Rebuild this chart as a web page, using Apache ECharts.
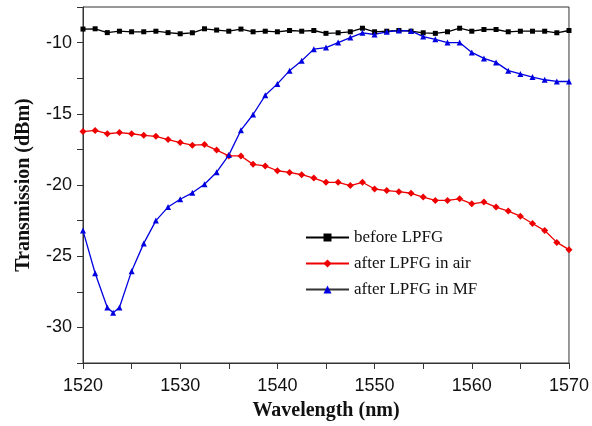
<!DOCTYPE html>
<html><head><meta charset="utf-8">
<script src="https://cdn.jsdelivr.net/npm/echarts@6/dist/echarts.min.js"></script>
<style>html,body{margin:0;padding:0;background:#fff}#c{width:592px;height:426px}</style>
</head><body><div id="c"></div>
<script>
const seriesNames = ['before LPFG', 'after LPFG in air', 'after LPFG in MF'];
const wlBefore = [1520,1521.25,1522.5,1523.75,1525,1526.25,1527.5,1528.75,1530,1531.25,1532.5,1533.75,1535,1536.25,1537.5,1538.75,1540,1541.25,1542.5,1543.75,1545,1546.25,1547.5,1548.75,1550,1551.25,1552.5,1553.75,1555,1556.25,1557.5,1558.75,1560,1561.25,1562.5,1563.75,1565,1566.25,1567.5,1568.75,1570];
const before = [-9.05,-9.03,-9.3,-9.2,-9.24,-9.24,-9.2,-9.3,-9.38,-9.31,-9.03,-9.12,-9.2,-9.05,-9.24,-9.2,-9.24,-9.15,-9.2,-9.15,-9.35,-9.31,-9.24,-8.99,-9.24,-9.2,-9.15,-9.2,-9.31,-9.35,-9.24,-8.99,-9.2,-9.08,-9.08,-9.24,-9.2,-9.2,-9.2,-9.31,-9.15];
const wlAir = wlBefore;
const air = [-16.25,-16.17,-16.4,-16.32,-16.4,-16.51,-16.58,-16.81,-17.02,-17.2,-17.16,-17.55,-17.96,-17.96,-18.55,-18.66,-19.0,-19.12,-19.28,-19.51,-19.81,-19.81,-20.04,-19.81,-20.28,-20.39,-20.47,-20.58,-20.85,-21.08,-21.08,-20.97,-21.32,-21.2,-21.55,-21.83,-22.19,-22.7,-23.2,-24.03,-24.54];
const wlMF = [1520,1521.25,1522.5,1523.1,1523.75,1525,1526.25,1527.5,1528.75,1530,1531.25,1532.5,1533.75,1535,1536.25,1537.5,1538.75,1540,1541.25,1542.5,1543.75,1545,1546.25,1547.5,1548.75,1550,1551.25,1552.5,1553.75,1555,1556.25,1557.5,1558.75,1560,1561.25,1562.5,1563.75,1565,1566.25,1567.5,1568.75,1570];
const mf = [-23.2,-26.2,-28.6,-28.97,-28.6,-26.05,-24.1,-22.5,-21.55,-21.0,-20.55,-19.95,-19.1,-17.9,-16.15,-15.05,-13.7,-12.9,-11.97,-11.27,-10.46,-10.35,-10.0,-9.65,-9.31,-9.43,-9.24,-9.15,-9.18,-9.58,-9.77,-10.0,-10.0,-10.69,-11.11,-11.39,-11.97,-12.2,-12.42,-12.61,-12.73,-12.73];

const pair = (xs, ys) => xs.map((x, i) => [x, ys[i]]);
const chart = echarts.init(document.getElementById('c'), null, {renderer: 'canvas'});
const axisLbl = {fontFamily: 'Liberation Sans', fontSize: 18, color: '#111'};
chart.setOption({
  animation: false,
  backgroundColor: '#fff',
  grid: {left: 83, right: 23, top: 7, bottom: 58, show: true, borderColor: '#333', borderWidth: 1},
  xAxis: {
    type: 'value', min: 1520, max: 1570, interval: 5,
    name: 'Wavelength (nm)', nameLocation: 'middle', nameGap: 38,
    nameTextStyle: {fontFamily: 'Liberation Serif', fontWeight: 'bold', fontSize: 20, color: '#111'},
    axisLine: {lineStyle: {color: '#333', width: 1}},
    axisTick: {length: 6, lineStyle: {color: '#333'}},
    axisLabel: Object.assign({margin: 14, formatter: v => (v % 10 === 0 ? String(v) : '')}, axisLbl),
    splitLine: {show: false}
  },
  yAxis: {
    type: 'value', min: -32.5, max: -7.5, interval: 2.5,
    name: 'Transmission (dBm)', nameLocation: 'middle', nameGap: 49,
    nameTextStyle: {fontFamily: 'Liberation Serif', fontWeight: 'bold', fontSize: 20, color: '#111'},
    axisLine: {lineStyle: {color: '#333', width: 1}},
    axisTick: {length: 6, lineStyle: {color: '#333'}},
    axisLabel: Object.assign({margin: 11, formatter: v => (v % 5 === 0 ? String(v) : '')}, axisLbl),
    splitLine: {show: false}
  },
  legend: {
    orient: 'vertical', left: 300, top: 224, itemWidth: 43, itemHeight: 10, itemGap: 9,
    textStyle: {fontFamily: 'Liberation Serif', fontSize: 17, color: '#111'},
    data: [
      {name: seriesNames[0]},
      {name: seriesNames[1]},
      {name: seriesNames[2], lineStyle: {color: '#333'}}
    ]
  },
  series: [
    {name: seriesNames[0], type: 'line', data: pair(wlBefore, before), symbol: 'rect', symbolSize: 5,
     lineStyle: {color: '#000', width: 1.3}, itemStyle: {color: '#000'}},
    {name: seriesNames[1], type: 'line', data: pair(wlAir, air), symbol: 'diamond', symbolSize: 7,
     lineStyle: {color: '#ee0000', width: 1.3}, itemStyle: {color: '#ee0000'}},
    {name: seriesNames[2], type: 'line', data: pair(wlMF, mf), symbol: 'triangle', symbolSize: 6,
     lineStyle: {color: '#0000e0', width: 1.3}, itemStyle: {color: '#0000e0'}}
  ]
});
</script></body></html>
